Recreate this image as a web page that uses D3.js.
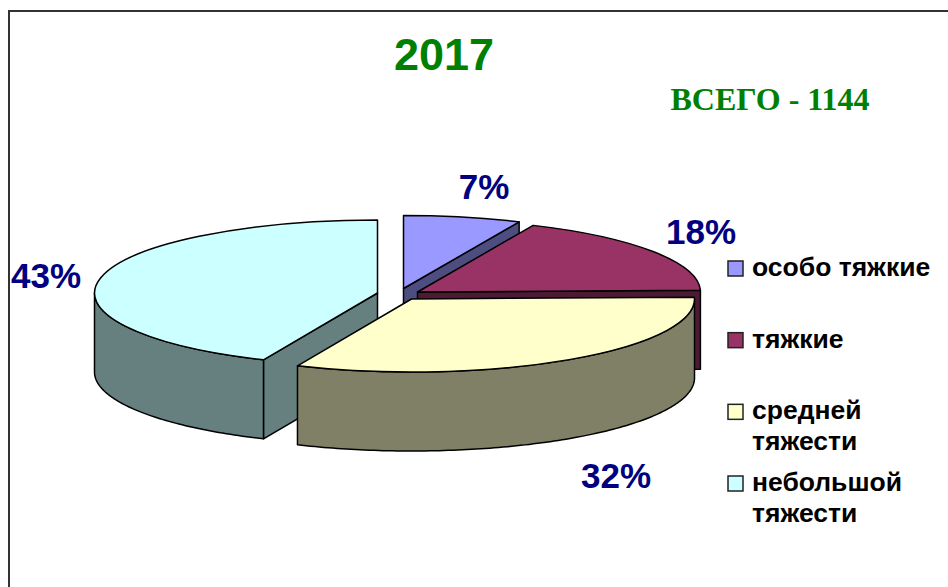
<!DOCTYPE html>
<html>
<head>
<meta charset="utf-8">
<script src="https://cdn.jsdelivr.net/npm/d3@7"></script>
<style>
	html, body { margin: 0; padding: 0; background: #fff; overflow: hidden; }
	svg { display: block; }
	text { font-family: "Liberation Sans", Arial, sans-serif; font-weight: bold; }
</style>
</head>
<body>
<div id="chart"></div>
<script>
const titleText = "2017";
const totalText = "ВСЕГО - 1144";
const categories = ["особо тяжкие", "тяжкие", "средней\nтяжести", "небольшой\nтяжести"];
const shares = [6.7, 17.9, 32, 43.4];

// Colours of the top faces and of the darker side walls
const topColors = ["#9999ff", "#993366", "#ffffcc", "#ccffff"];
const sideColors = ["#4d4d80", "#4d1a33", "#808066", "#668080"];

// Exploded centre of each slice and where its label goes
const sliceCenters = [[403.5, 288.5], [417.5, 292], [411.5, 299], [377.5, 293]];
const labelPositions = [[484, 199], [701, 244], [616, 488], [46, 288]];

const width = 948
, height = 587
, radiusX = 283
, radiusY = 73
, depth = 79;

const svg = d3.select("#chart")
	.append("svg")
	.attr("width", width)
	.attr("height", height);

// Outer frame, only the top and left edges are in the picture
svg.append("path")
	.attr("d", `M9,${height}V11H${width}`)
	.attr("fill", "none")
	.attr("stroke", "#333")
	.attr("stroke-width", 2);

const slices = d3.pie().sort(null).value(d => d)(shares);

const arc = d3.arc().innerRadius(0).outerRadius(radiusX);
const line = d3.line();

// Angle on the tilted pie to a point on the page
const project = (i, angle, drop = 0) => [
	sliceCenters[i][0] + radiusX * Math.sin(angle),
	sliceCenters[i][1] - radiusY * Math.cos(angle) + drop
];

// Closed shape hanging from a list of top edge points
const extrude = points => line(points.concat(points.slice().reverse().map(p => [p[0], p[1] + depth]))) + "Z";

const drawSide = (d) => {
	const i = d.index
	, center = sliceCenters[i]
	, sides = [];

	// Cut faces turned towards the viewer
	if (d.endAngle < Math.PI) sides.push([center, project(i, d.endAngle)]);
	if (d.startAngle > Math.PI) sides.push([center, project(i, d.startAngle)]);

	// Rounded wall, only the front half of the rim shows
	const from = Math.max(d.startAngle, Math.PI / 2)
	, to = Math.min(d.endAngle, Math.PI * 1.5);
	if (to > from) {
		const steps = Math.ceil((to - from) * 60);
		sides.push(d3.range(steps + 1).map(s => project(i, from + (to - from) * s / steps)));
	}

	sides.forEach(points => {
		svg.append("path")
			.attr("d", extrude(points))
			.attr("fill", sideColors[i])
			.attr("stroke", "#000")
			.attr("stroke-width", 1.5)
			.attr("stroke-linejoin", "round");
	});
};

// Back to front, the yellow slice sits over everything around it
[0, 1, 3, 2].forEach(i => {
	const d = slices[i];
	drawSide(d);
	svg.append("path")
		.attr("d", arc(d))
		.attr("transform", `translate(${sliceCenters[i]}) scale(1,${radiusY / radiusX})`)
		.attr("fill", topColors[i])
		.attr("stroke", "#000")
		.attr("stroke-width", 1.5)
		.attr("vector-effect", "non-scaling-stroke")
		.attr("stroke-linejoin", "round");
});

// Percent labels
svg.selectAll(".pct")
	.data(slices)
	.join("text")
	.attr("class", "pct")
	.attr("x", d => labelPositions[d.index][0])
	.attr("y", d => labelPositions[d.index][1])
	.attr("text-anchor", "middle")
	.attr("fill", "#000080")
	.style("font-size", "35px")
	.text(d => Math.round(d.value) + "%");

// Titles
svg.append("text")
	.attr("x", 444)
	.attr("y", 70)
	.attr("text-anchor", "middle")
	.attr("fill", "#008000")
	.style("font-size", "45px")
	.text(titleText);

svg.append("text")
	.attr("x", 770)
	.attr("y", 110)
	.attr("text-anchor", "middle")
	.attr("fill", "#008000")
	.style("font-family", "'Liberation Serif', 'Times New Roman', serif")
	.style("font-size", "32px")
	.text(totalText);

// Legend
const legendY = d3.scalePoint().domain(categories).range([268, 483]);

const legend = svg.selectAll(".legend")
	.data(categories)
	.join("g")
	.attr("class", "legend")
	.attr("transform", d => `translate(0,${legendY(d)})`);

legend.append("rect")
	.attr("x", 728)
	.attr("y", -7)
	.attr("width", 15)
	.attr("height", 15)
	.attr("fill", (d, i) => topColors[i])
	.attr("stroke", "#222")
	.attr("stroke-width", 1.5);

legend.append("text")
	.style("font-size", "26.5px")
	.attr("fill", "#000")
	.selectAll("tspan")
	.data(d => d.split("\n"))
	.join("tspan")
	.attr("x", 752)
	.attr("y", (d, i) => 8 + i * 31)
	.text(d => d);
</script>
</body>
</html>
